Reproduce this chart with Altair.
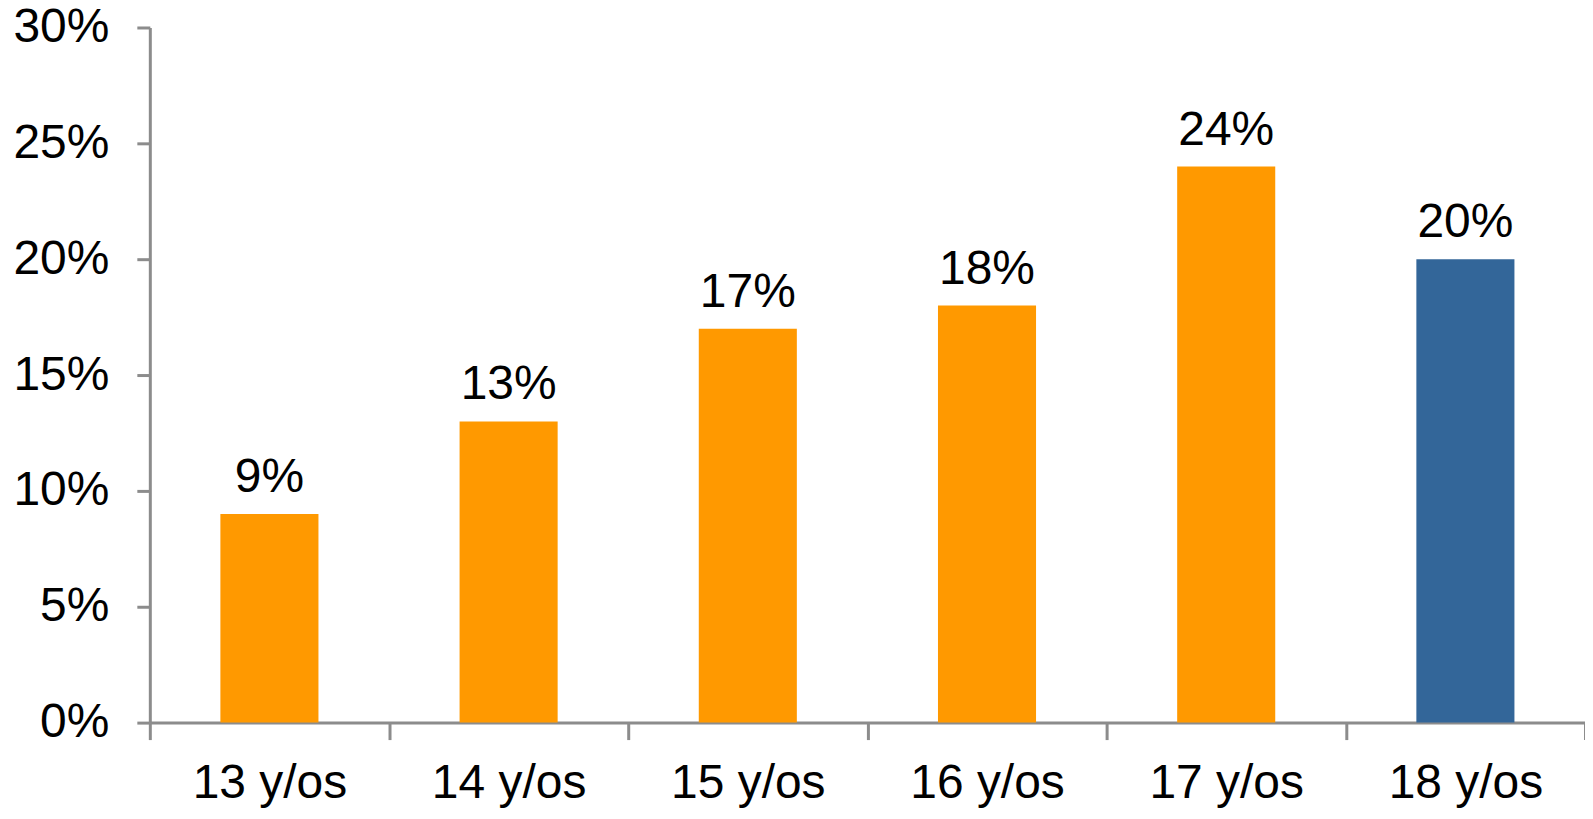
import altair as alt
import pandas as pd

categories = ["13 y/os", "14 y/os", "15 y/os", "16 y/os", "17 y/os", "18 y/os"]
values = [9, 13, 17, 18, 24, 20]
labels = ["9%", "13%", "17%", "18%", "24%", "20%"]
groups = ["a", "a", "a", "a", "a", "b"]

df = pd.DataFrame({"cat": categories, "val": values, "lab": labels, "grp": groups})

FONT = "Liberation Sans"
FS = 48

x = alt.X("cat:N", sort=categories, title=None,
          scale=alt.Scale(paddingInner=0, paddingOuter=0),
          axis=alt.Axis(labelAngle=0, labelFontSize=FS, labelFont=FONT, labelColor="#000000",
                        domainColor="#8c8c8c", domainWidth=3, tickColor="#8c8c8c", tickWidth=3,
                        tickSize=17, tickBand="extent", labelPadding=20))
y = alt.Y("val:Q", title=None,
          scale=alt.Scale(domain=[0, 30], nice=False),
          axis=alt.Axis(values=[0, 5, 10, 15, 20, 25, 30], labelExpr="datum.value + '%'",
                        labelFontSize=FS, labelFont=FONT, labelColor="#000000",
                        domainColor="#8c8c8c", domainWidth=3, tickColor="#8c8c8c", tickWidth=3,
                        tickSize=13, labelPadding=28, grid=False))

bars = alt.Chart(df).mark_bar(width=alt.RelativeBandSize(0.41)).encode(
    x=x, y=y,
    color=alt.Color("grp:N", scale=alt.Scale(domain=["a", "b"], range=["#FF9900", "#336699"]), legend=None),
)
text = alt.Chart(df).mark_text(baseline="bottom", dy=-12, fontSize=FS, font=FONT, color="#000000").encode(
    x=alt.X("cat:N", sort=categories), y="val:Q", text="lab:N"
)

chart = (bars + text).properties(
    width=1437, height=696,
    autosize=alt.AutoSizeParams(type="none"),
    padding={"left": 142, "top": 19, "right": 0, "bottom": 88},
).configure_view(stroke=None).configure_axis(grid=False)

chart.save("out.html", embed_options={"renderer": "svg", "actions": False})
